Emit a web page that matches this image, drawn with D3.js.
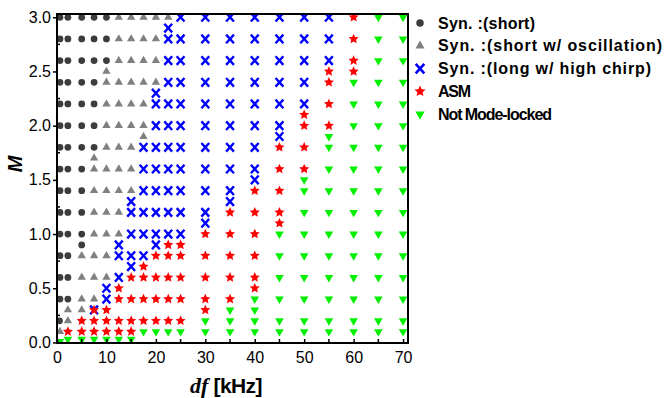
<!DOCTYPE html>
<html>
<head>
<meta charset="utf-8">
<script src="https://cdn.jsdelivr.net/npm/d3@7"></script>
<style>
  html, body { margin: 0; background: #fff; }
  svg { display: block; font-family: "Liberation Sans", Arial, sans-serif; }
</style>
</head>
<body>
<div id="chart"></div>
<script>
// Mode-locking phase map: modulation depth M against detuning df.
// Each regime is its own list of [df (kHz), M] points.

const dfTicks = [0, 10, 20, 30, 40, 50, 60, 70];
const dfMinor = [5, 15, 25, 35, 45, 55, 65];
const mTicks = [0, 0.5, 1.0, 1.5, 2.0, 2.5, 3.0];
const mMinor = [0.25, 0.75, 1.25, 1.75, 2.25, 2.75];

const legendLabels = [
  "Syn. :(short)",
  "Syn. :(short w/ oscillation)",
  "Syn. :(long w/ high chirp)",
  "ASM",
  "Not Mode-locked"
];

const synShort = [
  [0.6, 3], [2.2, 3], [5, 3], [7.5, 3], [10, 3],
  [0.6, 2.8], [2.2, 2.8], [5, 2.8], [7.5, 2.8], [10, 2.8],
  [0.6, 2.6], [2.2, 2.6], [5, 2.6], [7.5, 2.6], [10, 2.6],
  [0.6, 2.4], [2.2, 2.4], [5, 2.4], [7.5, 2.4],
  [0.6, 2.2], [2.2, 2.2], [5, 2.2], [7.5, 2.2],
  [0.6, 2.0], [2.2, 2.0], [5, 2.0], [7.5, 2.0],
  [0.6, 1.8], [2.2, 1.8], [5, 1.8], [7.5, 1.8],
  [0.6, 1.6], [2.2, 1.6], [5, 1.6],
  [0.6, 1.4], [2.2, 1.4], [5, 1.4],
  [0.6, 1.2], [2.2, 1.2], [5, 1.2],
  [0.6, 1.0], [2.2, 1.0], [5, 1.0],
  [5, 0.9],
  [0.6, 0.8], [2.2, 0.8],
  [0.6, 0.6], [2.2, 0.6],
  [0.6, 0.4], [2.2, 0.4],
  [0.5, 0.2]
];

const synOsc = [
  [12.5, 3], [15, 3], [17.5, 3], [20, 3], [22.5, 3],
  [12.5, 2.8], [15, 2.8], [17.5, 2.8], [20, 2.8],
  [12.5, 2.6], [15, 2.6], [17.5, 2.6], [20, 2.6],
  [10, 2.5],
  [10, 2.4], [12.5, 2.4], [15, 2.4], [17.5, 2.4], [20, 2.4],
  [10, 2.2], [12.5, 2.2], [15, 2.2], [17.5, 2.2],
  [10, 2.0], [12.5, 2.0], [15, 2.0], [17.5, 2.0],
  [17.5, 1.9],
  [10, 1.8], [12.5, 1.8], [15, 1.8],
  [7.5, 1.7],
  [7.5, 1.6], [10, 1.6], [12.5, 1.6], [15, 1.6],
  [7.5, 1.4], [10, 1.4], [12.5, 1.4], [15, 1.4],
  [7.5, 1.2], [10, 1.2], [12.5, 1.2],
  [7.5, 1.0], [10, 1.0], [12.5, 1.0],
  [5, 0.8], [7.5, 0.8], [10, 0.8],
  [5, 0.6], [7.5, 0.6], [10, 0.6],
  [5, 0.4], [7.5, 0.4],
  [2.2, 0.3], [5, 0.3],
  [2.2, 0.2],
  [0.6, 0.1]
];

const synChirp = [
  [25, 3], [30, 3], [35, 3], [40, 3], [45, 3], [50, 3], [55, 3],
  [22.5, 2.9],
  [22.5, 2.8], [25, 2.8], [30, 2.8], [35, 2.8], [40, 2.8], [45, 2.8], [50, 2.8], [55, 2.8],
  [22.5, 2.6], [25, 2.6], [30, 2.6], [35, 2.6], [40, 2.6], [45, 2.6], [50, 2.6], [55, 2.6],
  [22.5, 2.4], [25, 2.4], [30, 2.4], [35, 2.4], [40, 2.4], [45, 2.4], [50, 2.4],
  [20, 2.3],
  [20, 2.2], [22.5, 2.2], [25, 2.2], [30, 2.2], [35, 2.2], [40, 2.2], [45, 2.2], [50, 2.2],
  [20, 2.0], [22.5, 2.0], [25, 2.0], [30, 2.0], [35, 2.0], [40, 2.0], [45, 2.0],
  [45, 1.9],
  [17.5, 1.8], [20, 1.8], [22.5, 1.8], [25, 1.8], [30, 1.8], [35, 1.8], [40, 1.8],
  [17.5, 1.6], [20, 1.6], [22.5, 1.6], [25, 1.6], [30, 1.6], [35, 1.6], [40, 1.6],
  [40, 1.5],
  [17.5, 1.4], [20, 1.4], [22.5, 1.4], [25, 1.4], [30, 1.4], [35, 1.4],
  [15, 1.3], [35, 1.3],
  [15, 1.2], [17.5, 1.2], [20, 1.2], [22.5, 1.2], [25, 1.2], [30, 1.2],
  [30, 1.1],
  [15, 1.0], [17.5, 1.0], [20, 1.0], [22.5, 1.0], [25, 1.0],
  [12.5, 0.9], [20, 0.9],
  [12.5, 0.8], [15, 0.8], [17.5, 0.8],
  [15, 0.7],
  [12.5, 0.6],
  [10, 0.5],
  [10, 0.4],
  [7.5, 0.3]
];

const asm = [
  [60, 3], [60, 2.8], [60, 2.6],
  [55, 2.5], [60, 2.5],
  [55, 2.4], [55, 2.2],
  [50, 2.1],
  [50, 2.0], [55, 2.0],
  [45, 1.8], [50, 1.8],
  [45, 1.6], [50, 1.6],
  [40, 1.4], [45, 1.4],
  [35, 1.2], [40, 1.2], [45, 1.2],
  [45, 1.1],
  [30, 1.0], [35, 1.0], [40, 1.0],
  [22.5, 0.9], [25, 0.9],
  [20, 0.8], [22.5, 0.8], [25, 0.8], [30, 0.8], [35, 0.8], [40, 0.8],
  [17.5, 0.7],
  [15, 0.6], [17.5, 0.6], [20, 0.6], [22.5, 0.6], [25, 0.6], [30, 0.6], [35, 0.6], [40, 0.6],
  [12.5, 0.5], [40, 0.5],
  [12.5, 0.4], [15, 0.4], [17.5, 0.4], [20, 0.4], [22.5, 0.4], [25, 0.4], [30, 0.4], [35, 0.4],
  [7.5, 0.3], [10, 0.3], [30, 0.3],
  [5, 0.2], [7.5, 0.2], [10, 0.2], [12.5, 0.2], [15, 0.2], [17.5, 0.2], [20, 0.2], [22.5, 0.2], [25, 0.2],
  [2.2, 0.1], [5, 0.1], [7.5, 0.1], [10, 0.1], [12.5, 0.1], [15, 0.1]
];

const notLocked = [
  [65, 3], [70, 3], [65, 2.8], [70, 2.8], [65, 2.6], [70, 2.6],
  [60, 2.4], [65, 2.4], [70, 2.4],
  [60, 2.2], [65, 2.2], [70, 2.2],
  [60, 2.0], [65, 2.0], [70, 2.0],
  [55, 1.9],
  [55, 1.8], [60, 1.8], [65, 1.8], [70, 1.8],
  [55, 1.6], [60, 1.6], [65, 1.6], [70, 1.6],
  [50, 1.5],
  [50, 1.4], [55, 1.4], [60, 1.4], [65, 1.4], [70, 1.4],
  [50, 1.2], [55, 1.2], [60, 1.2], [65, 1.2], [70, 1.2],
  [45, 1.0], [50, 1.0], [55, 1.0], [60, 1.0], [65, 1.0], [70, 1.0],
  [45, 0.8], [50, 0.8], [55, 0.8], [60, 0.8], [65, 0.8], [70, 0.8],
  [45, 0.6], [50, 0.6], [55, 0.6], [60, 0.6], [65, 0.6], [70, 0.6],
  [40, 0.4], [45, 0.4], [50, 0.4], [55, 0.4], [60, 0.4], [65, 0.4], [70, 0.4],
  [35, 0.3], [40, 0.3],
  [30, 0.2], [35, 0.2], [40, 0.2], [45, 0.2], [50, 0.2], [55, 0.2], [60, 0.2], [65, 0.2], [70, 0.2],
  [17.5, 0.1], [20, 0.1], [22.5, 0.1], [25, 0.1], [30, 0.1], [35, 0.1], [40, 0.1],
  [45, 0.1], [50, 0.1], [55, 0.1], [60, 0.1], [65, 0.1], [70, 0.1],
  [0.6, 0.01], [2.2, 0.03], [5, 0.03], [7.5, 0.03], [10, 0.03], [12.5, 0.03], [15, 0.03]
];

const width = 664, height = 398;
const m = { top: 14, right: 256, bottom: 55, left: 57 };
const iw = width - m.left - m.right;
const ih = height - m.top - m.bottom;

const x = d3.scaleLinear().domain([0, 71]).range([0, iw]);
const y = d3.scaleLinear().domain([-0.005, 3.03]).range([ih, 0]);

// Origin's star is fatter than d3.symbolStar, so build one with a wider waist
function starPath(R, r) {
  const p = d3.path();
  for (let k = 0; k < 10; k++) {
    const a = -Math.PI / 2 + (k * Math.PI) / 5;
    const rad = k % 2 ? r : R;
    if (k === 0) p.moveTo(rad * Math.cos(a), rad * Math.sin(a));
    else p.lineTo(rad * Math.cos(a), rad * Math.sin(a));
  }
  p.closePath();
  return p.toString();
}

const shapes = {
  dot: d3.symbol(d3.symbolCircle, 36)(),
  up: d3.symbol(d3.symbolTriangle, 30)(),
  cross: "M-3.9,-4.3L3.9,4.3M3.9,-4.3L-3.9,4.3",
  star: starPath(5.3, 2.5),
  down: d3.symbol(d3.symbolTriangle, 32)()
};

const series = [
  { label: legendLabels[0], pts: synShort, d: shapes.dot, fill: "#3c3c3c" },
  { label: legendLabels[1], pts: synOsc, d: shapes.up, fill: "#808080" },
  { label: legendLabels[2], pts: synChirp, d: shapes.cross, stroke: "#0000ff" },
  { label: legendLabels[3], pts: asm, d: shapes.star, fill: "#ff0000" },
  { label: legendLabels[4], pts: notLocked, d: shapes.down, fill: "#00f000", flip: true }
];

const svg = d3.select("#chart").append("svg")
  .attr("width", width).attr("height", height).attr("viewBox", `0 0 ${width} ${height}`);
svg.append("defs").append("clipPath").attr("id", "plotClip")
  .append("rect").attr("width", iw).attr("height", ih);

const g = svg.append("g").attr("transform", `translate(${m.left},${m.top})`);

function mark(sel, s) {
  sel.attr("d", s.d)
    .attr("fill", s.fill || "none")
    .attr("stroke", s.stroke || "none")
    .attr("stroke-width", s.stroke ? 2.4 : 0);
}

const marks = g.append("g").attr("clip-path", "url(#plotClip)");
series.forEach((s) => {
  marks.append("g").selectAll("path").data(s.pts).join("path")
    .attr("transform", (p) => `translate(${x(p[0])},${y(p[1])})${s.flip ? " rotate(180)" : ""}`)
    .call(mark, s);
});

// axes: labelled major ticks, minor ticks pointing inward
const yAxis = g.append("g")
  .call(d3.axisLeft(y).tickValues(mTicks).tickFormat(d3.format(".1f")).tickSize(4).tickPadding(2));
yAxis.select(".domain").remove();
yAxis.attr("font-size", 16).attr("font-family", null);
yAxis.selectAll("line").attr("stroke-width", 1.5);

g.append("g").selectAll("line").data(mMinor).join("line")
  .attr("x1", 0).attr("x2", 3).attr("y1", (d) => y(d)).attr("y2", (d) => y(d))
  .attr("stroke", "#000").attr("stroke-width", 1.5);

const xAxis = g.append("g").attr("transform", `translate(0,${ih})`)
  .call(d3.axisBottom(x).tickValues(dfTicks).tickFormat(d3.format("d")).tickSizeInner(-4).tickSizeOuter(0).tickPadding(9));
xAxis.select(".domain").remove();
xAxis.attr("font-size", 16).attr("font-family", null);
xAxis.selectAll("line").attr("stroke-width", 1.5);

g.append("g").selectAll("line").data(dfMinor).join("line")
  .attr("x1", (d) => x(d)).attr("x2", (d) => x(d)).attr("y1", ih).attr("y2", ih - 4)
  .attr("stroke", "#000").attr("stroke-width", 1.5);

g.append("rect").attr("width", iw).attr("height", ih)
  .attr("fill", "none").attr("stroke", "#000").attr("stroke-width", 2);

// axis titles
svg.append("text")
  .attr("transform", "translate(14.5,164) rotate(-90)")
  .attr("text-anchor", "middle").attr("dominant-baseline", "central")
  .attr("font-size", 20).attr("font-weight", "bold").attr("font-style", "italic")
  .text("M");

const xt = svg.append("text").attr("x", 190).attr("y", 393).attr("font-weight", "bold");
xt.append("tspan").attr("font-family", "'Liberation Serif', 'Times New Roman', serif")
  .attr("font-style", "italic").attr("font-size", 22).text("df");
xt.append("tspan").attr("font-size", 21).attr("letter-spacing", -0.6).text(" [kHz]");

// legend
const legendLen = [97, 224, 213, 33, 114];
const legend = svg.append("g").attr("transform", "translate(420,23)");
series.forEach((s, i) => {
  const row = legend.append("g").attr("transform", `translate(0,${i * 22.8})`);
  row.append("path")
    .attr("transform", `scale(1.1)${s.flip ? " rotate(180)" : ""}`)
    .call(mark, s);
  row.append("text").attr("x", 18).attr("dominant-baseline", "central")
    .attr("font-size", 16).attr("font-weight", "bold")
    .attr("textLength", legendLen[i]).attr("lengthAdjust", "spacing")
    .text(s.label);
});
</script>
</body>
</html>
